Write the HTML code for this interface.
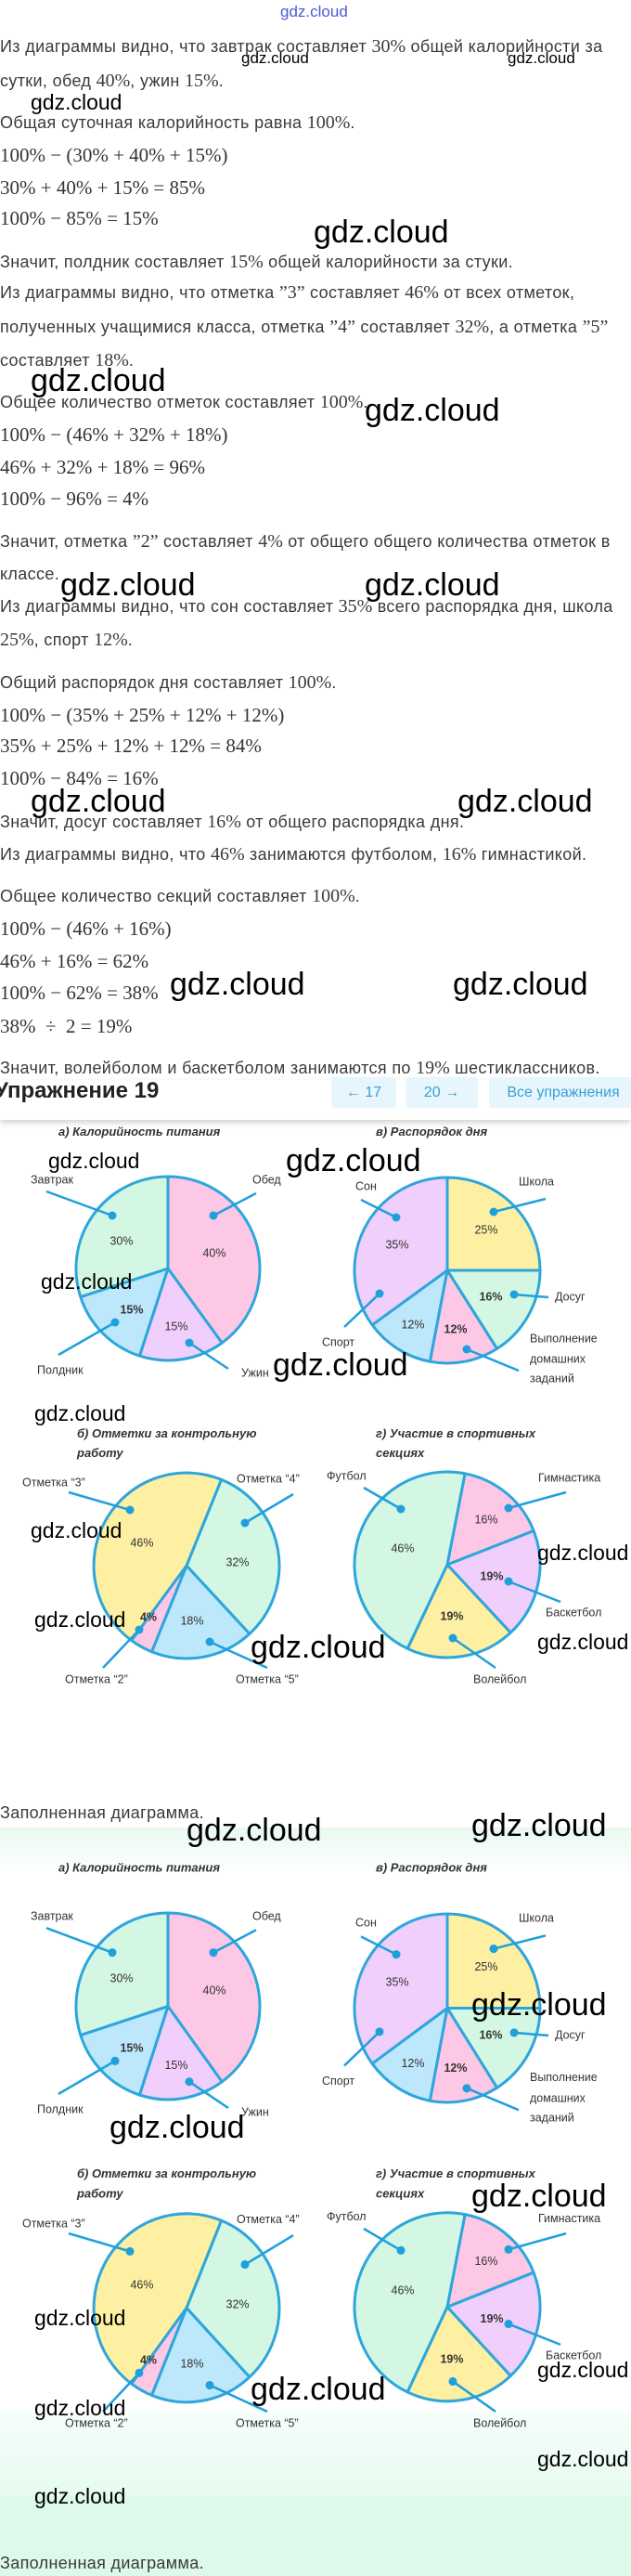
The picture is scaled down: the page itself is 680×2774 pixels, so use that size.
<!DOCTYPE html>
<html><head><meta charset="utf-8">
<style>
html,body{margin:0;padding:0;}
body{width:680px;height:2774px;position:relative;overflow:hidden;background:#fff;font-family:"Liberation Sans",sans-serif;color:#3a3a3a;}
.t{position:absolute;left:0;font-size:18px;line-height:22px;white-space:nowrap;letter-spacing:0.35px;}
.m{font-family:"Liberation Serif",serif;font-size:20px;letter-spacing:0;}
.ml{position:absolute;left:0;font-family:"Liberation Serif",serif;font-size:21px;line-height:24px;white-space:nowrap;color:#333;}
.w{position:absolute;color:#000;white-space:nowrap;font-family:"Liberation Sans",sans-serif;}
.wb{font-size:34px;line-height:40px;}
.wm{font-size:23px;line-height:28px;}
.ws{font-size:17px;line-height:20px;}
svg text{font-family:"Liberation Sans",sans-serif;}
.btn{position:absolute;top:1160px;height:33px;background:#e6f6fc;color:#3a9fd6;font-size:16px;line-height:33px;text-align:center;border-radius:4px;}
</style></head><body>

<div style="position:absolute;left:0;top:1968px;width:680px;height:50px;background:linear-gradient(#e9f9f0,#ffffff);"></div>
<div style="position:absolute;left:0;top:2597px;width:680px;height:91px;background:linear-gradient(#f6fefa,#e6fbf0);"></div>
<div style="position:absolute;left:0;top:2688px;width:680px;height:86px;background:#dcf9ea;"></div>

<div class="w ws" style="left:302px;top:3px;color:#4a5ad6;">gdz.cloud</div>

<div class="t" style="top:39px">Из диаграммы видно, что завтрак составляет <span class="m">30%</span> общей калорийности за</div>
<div class="t" style="top:76px">сутки, обед <span class="m">40%</span>, ужин <span class="m">15%</span>.</div>
<div class="t" style="top:121px">Общая суточная калорийность равна <span class="m">100%</span>.</div>
<div class="ml" style="top:155px">100% − (30% + 40% + 15%)</div>
<div class="ml" style="top:190px">30% + 40% + 15% = 85%</div>
<div class="ml" style="top:223px">100% − 85% = 15%</div>
<div class="t" style="top:271px">Значит, полдник составляет <span class="m">15%</span> общей калорийности за стуки.</div>
<div class="t" style="top:304px">Из диаграммы видно, что отметка <span class="m">”3”</span> составляет <span class="m">46%</span> от всех отметок,</div>
<div class="t" style="top:341px">полученных учащимися класса, отметка <span class="m">”4”</span> составляет <span class="m">32%</span>, а отметка <span class="m">”5”</span></div>
<div class="t" style="top:377px">составляет <span class="m">18%</span>.</div>
<div class="t" style="top:422px">Общее количество отметок составляет <span class="m">100%</span>.</div>
<div class="ml" style="top:456px">100% − (46% + 32% + 18%)</div>
<div class="ml" style="top:491px">46% + 32% + 18% = 96%</div>
<div class="ml" style="top:525px">100% − 96% = 4%</div>
<div class="t" style="top:572px">Значит, отметка <span class="m">”2”</span> составляет <span class="m">4%</span> от общего общего количества отметок в</div>
<div class="t" style="top:607px">классе.</div>
<div class="t" style="top:642px">Из диаграммы видно, что сон составляет <span class="m">35%</span> всего распорядка дня, школа</div>
<div class="t" style="top:678px"><span class="m">25%</span>, спорт <span class="m">12%</span>.</div>
<div class="t" style="top:724px">Общий распорядок дня составляет <span class="m">100%</span>.</div>
<div class="ml" style="top:758px">100% − (35% + 25% + 12% + 12%)</div>
<div class="ml" style="top:791px">35% + 25% + 12% + 12% = 84%</div>
<div class="ml" style="top:826px">100% − 84% = 16%</div>
<div class="t" style="top:874px">Значит, досуг составляет <span class="m">16%</span> от общего распорядка дня.</div>
<div class="t" style="top:909px">Из диаграммы видно, что <span class="m">46%</span> занимаются футболом, <span class="m">16%</span> гимнастикой.</div>
<div class="t" style="top:954px">Общее количество секций составляет <span class="m">100%</span>.</div>
<div class="ml" style="top:988px">100% − (46% + 16%)</div>
<div class="ml" style="top:1023px">46% + 16% = 62%</div>
<div class="ml" style="top:1057px">100% − 62% = 38%</div>
<div class="ml" style="top:1093px">38% &nbsp;÷ &nbsp;2 = 19%</div>

<div style="position:absolute;left:0;top:1163px;width:680px;height:43px;background:#fff;box-shadow:0 3px 6px rgba(0,0,0,0.18);"></div>
<div class="t" style="top:1139px">Значит, волейболом и баскетболом занимаются по <span class="m">19%</span> шестиклассников.</div>
<div style="position:absolute;left:-6px;top:1160px;font-size:24px;line-height:30px;font-weight:bold;color:#222;">Упражнение 19</div>
<div class="btn" style="left:357px;width:70px;">← 17</div>
<div class="btn" style="left:437px;width:78px;">20 →</div>
<div class="btn" style="left:527px;width:160px;">Все упражнения</div>

<div class="t" style="top:1941px">Заполненная диаграмма.</div>
<div class="t" style="top:2749px">Заполненная диаграмма.</div>

<!-- CHART SET 1 -->
<svg style="position:absolute;left:0;top:1200px" width="680" height="630" viewBox="0 0 680 630">
<g font-size="13" fill="#333">
<text x="63" y="23" font-weight="bold" font-style="italic" font-size="13">а) Калорийность питания</text>
<text x="405" y="23" font-weight="bold" font-style="italic" font-size="13">в) Распорядок дня</text>
<text x="83" y="348" font-weight="bold" font-style="italic" font-size="13">б) Отметки за контрольную</text>
<text x="83" y="369" font-weight="bold" font-style="italic" font-size="13">работу</text>
<text x="405" y="348" font-weight="bold" font-style="italic" font-size="13">г) Участие в спортивных</text>
<text x="405" y="369" font-weight="bold" font-style="italic" font-size="13">секциях</text>
</g>
<g stroke="#2ea6dc" stroke-width="3" stroke-linejoin="round">
<path d="M181,166 L181,67 A99,99 0 0 1 239.2,246.1 Z" fill="#fcc8e5"/>
<path d="M181,166 L239.2,246.1 A99,99 0 0 1 150.4,260.1 Z" fill="#f1cffc"/>
<path d="M181,166 L150.4,260.1 A99,99 0 0 1 86.8,196.6 Z" fill="#bde7fa"/>
<path d="M181,166 L86.8,196.6 A99,99 0 0 1 181,67 Z" fill="#d3f7e3"/>
<path d="M482,168 L482,68 A100,100 0 0 1 582,168 Z" fill="#fdf0a3"/>
<path d="M482,168 L582,168 A100,100 0 0 1 535.6,252.4 Z" fill="#d3f7e3"/>
<path d="M482,168 L535.6,252.4 A100,100 0 0 1 463.3,266.2 Z" fill="#fcc8e5"/>
<path d="M482,168 L463.3,266.2 A100,100 0 0 1 401.1,226.8 Z" fill="#bde7fa"/>
<path d="M482,168 L401.1,226.8 A100,100 0 0 1 482,68 Z" fill="#f1cffc"/>
<path d="M201,486 L238.5,393.3 A100,100 0 0 1 268.9,559.4 Z" fill="#d3f7e3"/>
<path d="M201,486 L268.9,559.4 A100,100 0 0 1 163.5,578.7 Z" fill="#bde7fa"/>
<path d="M201,486 L163.5,578.7 A100,100 0 0 1 141.7,566.5 Z" fill="#fcc8e5"/>
<path d="M201,486 L141.7,566.5 A100,100 0 0 1 238.5,393.3 Z" fill="#fdf0a3"/>
<path d="M482,485 L501.1,386.8 A100,100 0 0 1 575.1,448.5 Z" fill="#fcc8e5"/>
<path d="M482,485 L575.1,448.5 A100,100 0 0 1 550.2,558.1 Z" fill="#f1cffc"/>
<path d="M482,485 L550.2,558.1 A100,100 0 0 1 439.1,575.3 Z" fill="#fdf0a3"/>
<path d="M482,485 L439.1,575.3 A100,100 0 0 1 501.1,386.8 Z" fill="#d3f7e3"/>
</g>
<g stroke="#1fa0dc" stroke-width="2.5">
<line x1="50" y1="83" x2="121" y2="109"/><line x1="276" y1="85" x2="230" y2="109"/>
<line x1="63" y1="259" x2="124" y2="224"/><line x1="204" y1="246" x2="246" y2="274"/>
<line x1="389" y1="92" x2="427" y2="111"/><line x1="588" y1="91" x2="532" y2="105"/>
<line x1="554" y1="194" x2="591" y2="197"/><line x1="371" y1="229" x2="409" y2="193"/>
<line x1="503" y1="253" x2="559" y2="276"/>
<line x1="74" y1="407" x2="140" y2="426"/><line x1="316" y1="409" x2="264" y2="440"/>
<line x1="150" y1="555" x2="111" y2="596"/><line x1="226" y1="568" x2="288" y2="596"/>
<line x1="392" y1="402" x2="432" y2="425"/><line x1="610" y1="407" x2="548" y2="424"/>
<line x1="548" y1="503" x2="604" y2="525"/><line x1="488" y1="564" x2="534" y2="596"/>
</g>
<g fill="#1fa0dc">
<circle cx="121" cy="109" r="4.5"/><circle cx="230" cy="109" r="4.5"/><circle cx="124" cy="224" r="4.5"/><circle cx="204" cy="246" r="4.5"/>
<circle cx="427" cy="111" r="4.5"/><circle cx="532" cy="105" r="4.5"/><circle cx="554" cy="194" r="4.5"/><circle cx="409" cy="193" r="4.5"/><circle cx="503" cy="253" r="4.5"/>
<circle cx="140" cy="426" r="4.5"/><circle cx="264" cy="440" r="4.5"/><circle cx="150" cy="555" r="4.5"/><circle cx="226" cy="568" r="4.5"/>
<circle cx="432" cy="425" r="4.5"/><circle cx="548" cy="424" r="4.5"/><circle cx="548" cy="503" r="4.5"/><circle cx="488" cy="564" r="4.5"/>
</g>
<g font-size="12.5" fill="#333" dominant-baseline="middle">
<text x="33" y="71">Завтрак</text><text x="272" y="71">Обед</text>
<text x="40" y="276">Полдник</text><text x="260" y="279">Ужин</text>
<text x="383" y="78">Сон</text><text x="559" y="73">Школа</text><text x="598" y="197">Досуг</text>
<text x="347" y="246">Спорт</text><text x="571" y="242">Выполнение</text><text x="571" y="264">домашних</text><text x="571" y="285">заданий</text>
<text x="24" y="397">Отметка “3”</text><text x="255" y="393">Отметка “4”</text>
<text x="70" y="609">Отметка “2”</text><text x="254" y="609">Отметка “5”</text>
<text x="352" y="390">Футбол</text><text x="580" y="392">Гимнастика</text><text x="588" y="537">Баскетбол</text><text x="510" y="609">Волейбол</text>
</g>
<g font-size="12.5" fill="#333" text-anchor="middle" dominant-baseline="middle">
<text x="131" y="137">30%</text><text x="231" y="150">40%</text><text x="142" y="211" font-weight="bold">15%</text><text x="190" y="229">15%</text>
<text x="428" y="141">35%</text><text x="524" y="125">25%</text><text x="529" y="197" font-weight="bold">16%</text><text x="445" y="227">12%</text><text x="491" y="232" font-weight="bold">12%</text>
<text x="153" y="462">46%</text><text x="256" y="483">32%</text><text x="160" y="542" font-weight="bold">4%</text><text x="207" y="546">18%</text>
<text x="524" y="437">16%</text><text x="434" y="468">46%</text><text x="530" y="498" font-weight="bold">19%</text><text x="487" y="541" font-weight="bold">19%</text>
</g>
</svg>

<!-- CHART SET 2 -->
<svg style="position:absolute;left:0;top:1992px" width="680" height="640" viewBox="0 0 680 640">
<g transform="scale(1,1.015)">
<g font-size="13" fill="#333">
<text x="63" y="23" font-weight="bold" font-style="italic" font-size="13">а) Калорийность питания</text>
<text x="405" y="23" font-weight="bold" font-style="italic" font-size="13">в) Распорядок дня</text>
<text x="83" y="348" font-weight="bold" font-style="italic" font-size="13">б) Отметки за контрольную</text>
<text x="83" y="369" font-weight="bold" font-style="italic" font-size="13">работу</text>
<text x="405" y="348" font-weight="bold" font-style="italic" font-size="13">г) Участие в спортивных</text>
<text x="405" y="369" font-weight="bold" font-style="italic" font-size="13">секциях</text>
</g>
<g stroke="#2ea6dc" stroke-width="3" stroke-linejoin="round">
<path d="M181,166 L181,67 A99,99 0 0 1 239.2,246.1 Z" fill="#fcc8e5"/>
<path d="M181,166 L239.2,246.1 A99,99 0 0 1 150.4,260.1 Z" fill="#f1cffc"/>
<path d="M181,166 L150.4,260.1 A99,99 0 0 1 86.8,196.6 Z" fill="#bde7fa"/>
<path d="M181,166 L86.8,196.6 A99,99 0 0 1 181,67 Z" fill="#d3f7e3"/>
<path d="M482,168 L482,68 A100,100 0 0 1 582,168 Z" fill="#fdf0a3"/>
<path d="M482,168 L582,168 A100,100 0 0 1 535.6,252.4 Z" fill="#d3f7e3"/>
<path d="M482,168 L535.6,252.4 A100,100 0 0 1 463.3,266.2 Z" fill="#fcc8e5"/>
<path d="M482,168 L463.3,266.2 A100,100 0 0 1 401.1,226.8 Z" fill="#bde7fa"/>
<path d="M482,168 L401.1,226.8 A100,100 0 0 1 482,68 Z" fill="#f1cffc"/>
<path d="M201,486 L238.5,393.3 A100,100 0 0 1 268.9,559.4 Z" fill="#d3f7e3"/>
<path d="M201,486 L268.9,559.4 A100,100 0 0 1 163.5,578.7 Z" fill="#bde7fa"/>
<path d="M201,486 L163.5,578.7 A100,100 0 0 1 141.7,566.5 Z" fill="#fcc8e5"/>
<path d="M201,486 L141.7,566.5 A100,100 0 0 1 238.5,393.3 Z" fill="#fdf0a3"/>
<path d="M482,485 L501.1,386.8 A100,100 0 0 1 575.1,448.5 Z" fill="#fcc8e5"/>
<path d="M482,485 L575.1,448.5 A100,100 0 0 1 550.2,558.1 Z" fill="#f1cffc"/>
<path d="M482,485 L550.2,558.1 A100,100 0 0 1 439.1,575.3 Z" fill="#fdf0a3"/>
<path d="M482,485 L439.1,575.3 A100,100 0 0 1 501.1,386.8 Z" fill="#d3f7e3"/>
</g>
<g stroke="#1fa0dc" stroke-width="2.5">
<line x1="50" y1="83" x2="121" y2="109"/><line x1="276" y1="85" x2="230" y2="109"/>
<line x1="63" y1="259" x2="124" y2="224"/><line x1="204" y1="246" x2="246" y2="274"/>
<line x1="389" y1="92" x2="427" y2="111"/><line x1="588" y1="91" x2="532" y2="105"/>
<line x1="554" y1="194" x2="591" y2="197"/><line x1="371" y1="229" x2="409" y2="193"/>
<line x1="503" y1="253" x2="559" y2="276"/>
<line x1="74" y1="407" x2="140" y2="426"/><line x1="316" y1="409" x2="264" y2="440"/>
<line x1="150" y1="555" x2="111" y2="596"/><line x1="226" y1="568" x2="288" y2="596"/>
<line x1="392" y1="402" x2="432" y2="425"/><line x1="610" y1="407" x2="548" y2="424"/>
<line x1="548" y1="503" x2="604" y2="525"/><line x1="488" y1="564" x2="534" y2="596"/>
</g>
<g fill="#1fa0dc">
<circle cx="121" cy="109" r="4.5"/><circle cx="230" cy="109" r="4.5"/><circle cx="124" cy="224" r="4.5"/><circle cx="204" cy="246" r="4.5"/>
<circle cx="427" cy="111" r="4.5"/><circle cx="532" cy="105" r="4.5"/><circle cx="554" cy="194" r="4.5"/><circle cx="409" cy="193" r="4.5"/><circle cx="503" cy="253" r="4.5"/>
<circle cx="140" cy="426" r="4.5"/><circle cx="264" cy="440" r="4.5"/><circle cx="150" cy="555" r="4.5"/><circle cx="226" cy="568" r="4.5"/>
<circle cx="432" cy="425" r="4.5"/><circle cx="548" cy="424" r="4.5"/><circle cx="548" cy="503" r="4.5"/><circle cx="488" cy="564" r="4.5"/>
</g>
<g font-size="12.5" fill="#333" dominant-baseline="middle">
<text x="33" y="71">Завтрак</text><text x="272" y="71">Обед</text>
<text x="40" y="276">Полдник</text><text x="260" y="279">Ужин</text>
<text x="383" y="78">Сон</text><text x="559" y="73">Школа</text><text x="598" y="197">Досуг</text>
<text x="347" y="246">Спорт</text><text x="571" y="242">Выполнение</text><text x="571" y="264">домашних</text><text x="571" y="285">заданий</text>
<text x="24" y="397">Отметка “3”</text><text x="255" y="393">Отметка “4”</text>
<text x="70" y="609">Отметка “2”</text><text x="254" y="609">Отметка “5”</text>
<text x="352" y="390">Футбол</text><text x="580" y="392">Гимнастика</text><text x="588" y="537">Баскетбол</text><text x="510" y="609">Волейбол</text>
</g>
<g font-size="12.5" fill="#333" text-anchor="middle" dominant-baseline="middle">
<text x="131" y="137">30%</text><text x="231" y="150">40%</text><text x="142" y="211" font-weight="bold">15%</text><text x="190" y="229">15%</text>
<text x="428" y="141">35%</text><text x="524" y="125">25%</text><text x="529" y="197" font-weight="bold">16%</text><text x="445" y="227">12%</text><text x="491" y="232" font-weight="bold">12%</text>
<text x="153" y="462">46%</text><text x="256" y="483">32%</text><text x="160" y="542" font-weight="bold">4%</text><text x="207" y="546">18%</text>
<text x="524" y="437">16%</text><text x="434" y="468">46%</text><text x="530" y="498" font-weight="bold">19%</text><text x="487" y="541" font-weight="bold">19%</text>
</g>
</g>
</svg>

<!-- watermarks -->
<div class="w ws" style="left:260px;top:53px">gdz.cloud</div>
<div class="w ws" style="left:547px;top:53px">gdz.cloud</div>
<div class="w wm" style="left:33px;top:96px">gdz.cloud</div>
<div class="w wb" style="left:338px;top:230px">gdz.cloud</div>
<div class="w wb" style="left:33px;top:390px">gdz.cloud</div>
<div class="w wb" style="left:393px;top:422px">gdz.cloud</div>
<div class="w wb" style="left:65px;top:610px">gdz.cloud</div>
<div class="w wb" style="left:393px;top:610px">gdz.cloud</div>
<div class="w wb" style="left:33px;top:843px">gdz.cloud</div>
<div class="w wb" style="left:493px;top:843px">gdz.cloud</div>
<div class="w wb" style="left:183px;top:1040px">gdz.cloud</div>
<div class="w wb" style="left:488px;top:1040px">gdz.cloud</div>

<div class="w wm" style="left:52px;top:1236px">gdz.cloud</div>
<div class="w wb" style="left:308px;top:1230px">gdz.cloud</div>
<div class="w wm" style="left:44px;top:1366px">gdz.cloud</div>
<div class="w wb" style="left:294px;top:1450px">gdz.cloud</div>
<div class="w wm" style="left:37px;top:1508px">gdz.cloud</div>
<div class="w wm" style="left:33px;top:1634px">gdz.cloud</div>
<div class="w wm" style="left:579px;top:1658px">gdz.cloud</div>
<div class="w wm" style="left:37px;top:1730px">gdz.cloud</div>
<div class="w wb" style="left:270px;top:1754px">gdz.cloud</div>
<div class="w wm" style="left:579px;top:1754px">gdz.cloud</div>

<div class="w wb" style="left:201px;top:1951px">gdz.cloud</div>
<div class="w wb" style="left:508px;top:1946px">gdz.cloud</div>
<div class="w wb" style="left:508px;top:2139px">gdz.cloud</div>
<div class="w wb" style="left:118px;top:2271px">gdz.cloud</div>
<div class="w wb" style="left:508px;top:2345px">gdz.cloud</div>
<div class="w wb" style="left:270px;top:2553px">gdz.cloud</div>
<div class="w wm" style="left:37px;top:2482px">gdz.cloud</div>
<div class="w wm" style="left:37px;top:2579px">gdz.cloud</div>
<div class="w wm" style="left:579px;top:2538px">gdz.cloud</div>
<div class="w wm" style="left:579px;top:2634px">gdz.cloud</div>
<div class="w wm" style="left:37px;top:2674px">gdz.cloud</div>

</body></html>
